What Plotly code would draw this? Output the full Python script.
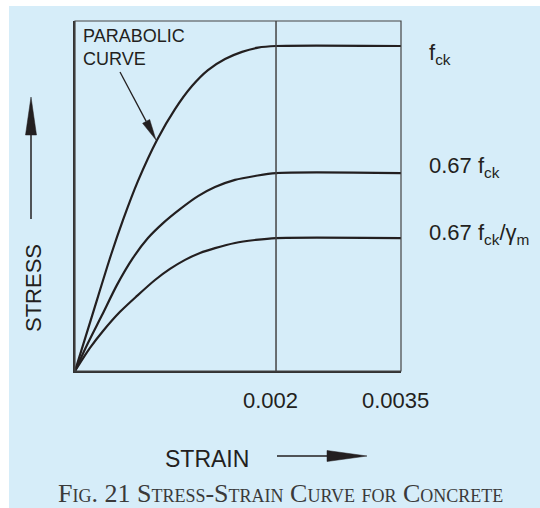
import plotly.graph_objects as go

# ---------------- data ----------------
strain_fck = [0, 0.000169, 0.000358, 0.000478, 0.000627, 0.000816, 0.000995,
              0.001164, 0.001323, 0.001493, 0.001662, 0.001821, 0.002, 0.0035]
stress_fck = [0, 0.169, 0.357, 0.465, 0.585, 0.711, 0.806,
              0.877, 0.926, 0.960, 0.982, 0.995, 1.0, 1.0]

strain_067 = [0, 0.000129, 0.000269, 0.000418, 0.000577, 0.000726, 0.000876,
              0.001045, 0.001224, 0.001393, 0.001592, 0.001791, 0.002, 0.0035]
stress_067 = [0, 0.086, 0.172, 0.265, 0.348, 0.409, 0.455,
              0.498, 0.538, 0.566, 0.588, 0.600, 0.609, 0.609]

strain_gm = [0, 0.000149, 0.000279, 0.000448, 0.000617, 0.000796, 0.000945,
             0.001095, 0.001244, 0.001393, 0.001592, 0.001791, 0.002, 0.0035]
stress_gm = [0, 0.071, 0.123, 0.182, 0.231, 0.280, 0.314,
             0.342, 0.363, 0.378, 0.394, 0.403, 0.409, 0.409]

tick_strains = [0.002, 0.0035]
tick_labels = ["0.002", "0.0035"]
level_values = [1.0, 0.609, 0.409]
level_labels = ["f<sub>ck</sub>", "0.67 f<sub>ck</sub>", "0.67 f<sub>ck</sub>/γ<sub>m</sub>"]
level_shifts = [-8, 6, 4]
caption_text = "Fig. 21 Stress-Strain Curve for Concrete"

# ---------------- scales ----------------
W, H = 540, 508
L, R, T, B = 75, 401, 21, 371          # plot area in pixels
PW, PH = R - L, B - T
YMAX = 1.077
KINK = 0.002
COMP = 0.829                           # compression of the strain axis past 0.002


def sx(e):
    return e if e <= KINK else KINK + (e - KINK) * COMP


XMAX = sx(0.0035)


def P(px, py):
    return (px - L) / PW, (B - py) / PH


INK = "#231f20"
BG = "#d6edf9"
FONT = "Liberation Sans, Arial, sans-serif"

fig = go.Figure()
for xs, ys in [(strain_fck, stress_fck), (strain_067, stress_067), (strain_gm, stress_gm)]:
    fig.add_trace(go.Scatter(x=[sx(v) for v in xs], y=ys, mode="lines",
                             line=dict(color=INK, width=2.2, shape="spline", smoothing=0.8),
                             hoverinfo="skip", showlegend=False))

shapes = []
x0, y1 = P(9, 6)
x1, y0 = P(W + 5, H + 5)
shapes.append(dict(type="rect", xref="paper", yref="paper", x0=x0, x1=x1, y0=y0, y1=y1,
                   fillcolor=BG, line=dict(width=0), layer="below"))
shapes.append(dict(type="rect", xref="paper", yref="paper", x0=0, x1=1, y0=0, y1=1,
                   line=dict(color="#444", width=1.2), fillcolor="rgba(0,0,0,0)"))
shapes.append(dict(type="line", xref="x", yref="paper", x0=sx(0.002), x1=sx(0.002), y0=0, y1=1,
                   line=dict(color="#444", width=1.5)))


def seg(a, b, w=1.5):
    (xa, ya), (xb, yb) = P(*a), P(*b)
    shapes.append(dict(type="line", xref="paper", yref="paper", x0=xa, y0=ya, x1=xb, y1=yb,
                       line=dict(color=INK, width=w)))


def tri(pts):
    pp = [P(*p) for p in pts]
    path = "M " + " L ".join(f"{x},{y}" for x, y in pp) + " Z"
    shapes.append(dict(type="path", xref="paper", yref="paper", path=path,
                       fillcolor=INK, line=dict(color=INK, width=0.5)))


seg((277, 456), (330, 456))
tri([(327, 450.5), (367, 456), (327, 461.5)])
seg((31, 219), (31, 130))
tri([(25.5, 135), (31, 97), (36.5, 135)])
seg((120, 72), (146.2, 121.4), 1.3)
tri([(142.6, 123.3), (156, 140), (149.7, 119.5)])

ann = []
for e, t in zip(tick_strains, tick_labels):
    ann.append(dict(x=sx(e), xref="x", y=P(0, 401)[1], yref="paper", text=t, showarrow=False,
                    xshift=-6, xanchor="center", yanchor="middle",
                    font=dict(family=FONT, size=22, color=INK)))
for v, t, s in zip(level_values, level_labels, level_shifts):
    ann.append(dict(x=P(427, 0)[0], xref="paper", y=v, yref="y", yshift=s, text=t,
                    showarrow=False, xanchor="left", yanchor="middle",
                    font=dict(family=FONT, size=22, color=INK)))
px_, py_ = P(207, 459)
ann.append(dict(x=px_, y=py_, xref="paper", yref="paper", text="STRAIN", showarrow=False,
                xanchor="center", yanchor="middle", font=dict(family=FONT, size=23, color=INK)))
px_, py_ = P(33, 288)
ann.append(dict(x=px_, y=py_, xref="paper", yref="paper", text="STRESS", showarrow=False,
                textangle=-90, xanchor="center", yanchor="middle",
                font=dict(family=FONT, size=22, color=INK)))
px_, py_ = P(81, 24)
ann.append(dict(x=px_, y=py_, xref="paper", yref="paper", text="PARABOLIC<br>CURVE",
                showarrow=False, xanchor="left", yanchor="top", align="left",
                font=dict(family=FONT, size=18, color=INK)))

px_, py_ = P(280.5, 493)
ann.append(dict(x=px_, y=py_, xref="paper", yref="paper", text=caption_text, showarrow=False,
                xanchor="center", yanchor="middle",
                font=dict(family="Liberation Serif, Times New Roman, serif", size=26,
                          color="#3a3a3a", variant="small-caps")))

fig.update_layout(
    width=W, height=H,
    margin=dict(l=L, r=W - R, t=T, b=H - B, pad=0),
    paper_bgcolor="white", plot_bgcolor="rgba(0,0,0,0)",
    shapes=shapes, annotations=ann, showlegend=False,
    xaxis=dict(range=[0, XMAX], showgrid=False, zeroline=False, showticklabels=False,
               ticks="", showline=True, linecolor="#333", linewidth=2.2, fixedrange=True),
    yaxis=dict(range=[0, YMAX], showgrid=False, zeroline=False, showticklabels=False,
               ticks="", showline=True, linecolor="#333", linewidth=2.2, fixedrange=True),
)

fig.write_html("out.html", config={"displayModeBar": False},
               post_script="document.body.style.margin='0';document.body.style.overflow='hidden';")
